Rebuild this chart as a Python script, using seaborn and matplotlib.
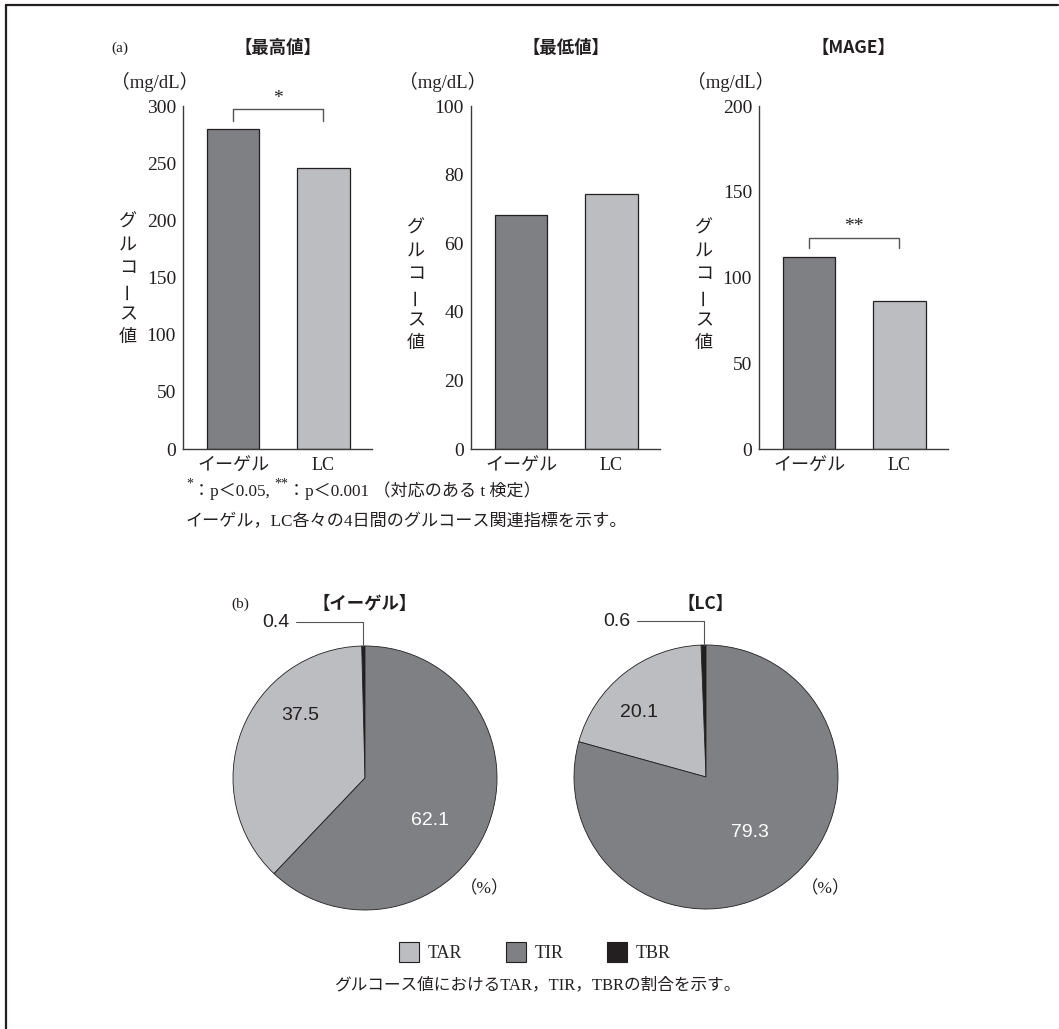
import numpy as np
import pandas as pd
import matplotlib
matplotlib.use("Agg")
import matplotlib.pyplot as plt
from matplotlib.lines import Line2D
from matplotlib.patches import Patch
import seaborn as sns

# ---------------- data ----------------
groups = ["イーゲル", "LC"]
max_vals = [280.0, 245.5]
min_vals = [68.3, 74.4]
mage_vals = [112.0, 86.5]
panel_titles = ["【最高値】", "【最低値】", "【MAGE】"]
y_max = [300, 100, 200]
y_step = [50, 20, 50]
sig_marks = ["*", None, "**"]
bracket_levels = [(297, 287), None, (123, 117)]

pie_titles = ["【イーゲル】", "【LC】"]
pie_categories = ["TBR", "TAR", "TIR"]
eagle_pct = [0.4, 37.5, 62.1]
lc_pct = [0.6, 20.1, 79.3]
legend_order = ["TAR", "TIR", "TBR"]

footnote_1 = ["*", "：p＜0.05, ", "**", "：p＜0.001 （対応のある t 検定）"]
footnote_2 = "イーゲル，LC各々の4日間のグルコース関連指標を示す。"
caption_b = "グルコース値におけるTAR，TIR，TBRの割合を示す。"
ylabel_chars = list("グルコース値")
unit_label = "（mg/dL）"

# ---------------- style ----------------
DARK = "#7f8084"
LIGHT = "#bcbdc1"
BLACK = "#231f20"
AXC = "#3a3a3a"
sns.set_style("white")
SERIF = ["Liberation Serif", "Noto Sans CJK JP"]
SANS = ["Liberation Sans", "Noto Sans CJK JP"]
plt.rcParams["font.family"] = SERIF

W, H, DPI = 1059, 1029, 100
fig = plt.figure(figsize=(W / DPI, H / DPI), dpi=DPI)
fig.patch.set_facecolor("white")


def rect(left, top, right, bottom):
    return [left / W, 1 - bottom / H, (right - left) / W, (bottom - top) / H]


def fx(x):
    return x / W


def fy(y):
    return 1 - y / H


# frame (top and left rule)
fig.add_artist(Line2D([fx(6), fx(1058)], [fy(5), fy(5)], color=BLACK, lw=1.6))
fig.add_artist(Line2D([fx(6), fx(6)], [fy(5), fy(1029)], color=BLACK, lw=1.6))

# ---------------- (a) bar charts ----------------
spines_x = [183, 471, 759]
ylabel_top = [222, 228, 228]
ax_width = 189
values_list = [max_vals, min_vals, mage_vals]
for i, (sx, vals) in enumerate(zip(spines_x, values_list)):
    ax = fig.add_axes(rect(sx, 106, sx + ax_width, 449))
    df = pd.DataFrame({"group": groups, "value": vals})
    sns.barplot(data=df, x="group", y="value", hue="group",
                palette=[DARK, LIGHT], width=0.575, saturation=1,
                edgecolor=BLACK, linewidth=0.9, legend=False, ax=ax)
    ax.set_xlim(-0.552, 1.536)
    ax.set_ylim(0, y_max[i])
    ax.set_yticks(np.arange(0, y_max[i] + 1, y_step[i]))
    ax.set_xlabel("")
    ax.set_ylabel("")
    for s in ["top", "right"]:
        ax.spines[s].set_visible(False)
    for s in ["left", "bottom"]:
        ax.spines[s].set_color(AXC)
        ax.spines[s].set_linewidth(1.0)
    ax.tick_params(axis="y", direction="in", length=5, width=1.0, color=AXC,
                   labelsize=14, pad=5, labelcolor=BLACK)
    ax.tick_params(axis="x", length=0, labelsize=13, pad=6, labelcolor=BLACK)
    ax.set_facecolor("white")
    ax.grid(False)

    # title, unit
    cx = sx + ax_width / 2
    fig.text(fx(cx), fy(48), panel_titles[i], ha="center", va="center",
             fontsize=12.5, fontweight="bold", family=["Noto Sans CJK JP"], color=BLACK)
    fig.text(fx(sx - 28), fy(82), unit_label, ha="center", va="center",
             fontsize=13.5, color=BLACK)
    # vertical y label
    for k, ch in enumerate(ylabel_chars):
        fig.text(fx(sx - 55), fy(ylabel_top[i] + 23 * k), ch, ha="center",
                 va="center", fontsize=13, family=["Noto Sans CJK JP"],
                 color=BLACK, rotation=90 if ch == "ー" else 0)

    # significance bracket
    if sig_marks[i]:
        hi, lo = bracket_levels[i]
        ax.plot([0, 0, 1, 1], [lo, hi, hi, lo], color="#555555", lw=1.0,
                clip_on=False)
        ax.annotate(sig_marks[i], xy=(0.5, hi), xytext=(0, 2),
                    textcoords="offset points", ha="center", va="bottom",
                    fontsize=14, color=BLACK, annotation_clip=False)

fig.text(fx(120), fy(48), "(a)", ha="center", va="center", fontsize=11, color=BLACK)

# footnotes for (a)
renderer = fig.canvas.get_renderer()
x = 186
for k, piece in enumerate(footnote_1):
    sup = piece.startswith("*")
    t = fig.text(fx(x), fy(496 - (8 if sup else 0)), piece, ha="left",
                 va="baseline", fontsize=10 if sup else 12.3, color=BLACK)
    x += t.get_window_extent(renderer).width
fig.text(fx(186), fy(526), footnote_2, ha="left", va="baseline",
         fontsize=12.3, color=BLACK)

# ---------------- (b) pie charts ----------------
pie_centers = [(365, 778), (706, 777)]
R = 132
pie_data = [eagle_pct, lc_pct]
label_pos = [{"TAR": (-0.49, 0.47), "TIR": (0.49, -0.32)},
             {"TAR": (-0.51, 0.49), "TIR": (0.33, -0.42)}]
color_map = {"TBR": BLACK, "TAR": LIGHT, "TIR": DARK}
text_color = {"TAR": BLACK, "TIR": "white"}
for j, ((cxp, cyp), pct) in enumerate(zip(pie_centers, pie_data)):
    ax = fig.add_axes(rect(cxp - R, cyp - R, cxp + R, cyp + R))
    wedges, _ = ax.pie(pct, colors=[color_map[c] for c in pie_categories],
                       startangle=90, counterclock=True,
                       wedgeprops=dict(edgecolor=BLACK, linewidth=0.6))
    for w in wedges:
        w.set_clip_on(False)
    ax.set_xlim(-1, 1)
    ax.set_ylim(-1, 1)
    ax.set_aspect("auto")
    ax.axis("off")
    for w, cat, v in zip(wedges, pie_categories, pct):
        mid = np.deg2rad((w.theta1 + w.theta2) / 2)
        if cat == "TBR":
            x0 = np.cos(mid)
            ax.plot([x0, x0, -0.52], [1.0, 1.18, 1.18], color="#555555",
                    lw=0.8, clip_on=False)
            ax.text(-0.57, 1.18, f"{v}", ha="right", va="center",
                    fontsize=14, family=SANS, color=BLACK, clip_on=False)
        else:
            px, py = label_pos[j][cat]
            ax.text(px, py, f"{v}", ha="center", va="center", fontsize=14,
                    family=SANS, color=text_color[cat])
    fig.text(fx(cxp), fy(604), pie_titles[j], ha="center", va="center",
             fontsize=12.5, fontweight="bold", family=["Noto Sans CJK JP"], color=BLACK)
    fig.text(fx(cxp + 120), fy(889), "（%）", ha="center", va="center",
             fontsize=12.5, color=BLACK)

fig.text(fx(240), fy(604), "(b)", ha="center", va="center", fontsize=11, color=BLACK)

handles = [Patch(facecolor=color_map[c], edgecolor=BLACK, linewidth=0.8)
           for c in legend_order]
fig.legend(handles, legend_order, loc="center", bbox_to_anchor=(fx(535), fy(952)),
           ncol=3, frameon=False, handlelength=1.1, handleheight=1.4,
           handletextpad=0.5, columnspacing=2.4, prop={"family": SERIF, "size": 13})

fig.text(fx(537), fy(985), caption_b, ha="center", va="center",
         fontsize=12, color=BLACK)

fig.savefig("out.png", dpi=DPI, facecolor="white")
